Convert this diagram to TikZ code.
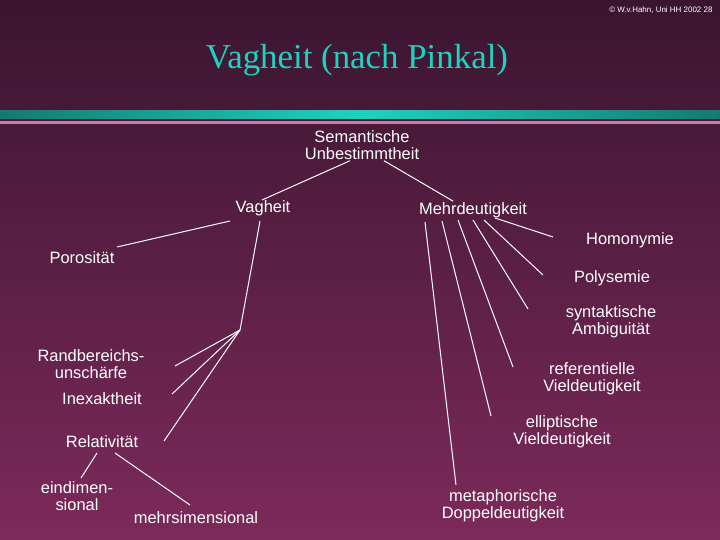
\documentclass[tikz,border=0pt]{standalone}
\usepackage{fontspec}
\setmainfont{Liberation Sans}
\newfontfamily\seriff{Liberation Serif}
\definecolor{bgtop}{HTML}{3A1530}
\definecolor{bgbot}{HTML}{7C2A5A}
\definecolor{teal}{HTML}{1ED2C0}
\definecolor{tealdk}{HTML}{147A70}
\definecolor{mauve}{HTML}{C080A8}
\begin{document}
\begin{tikzpicture}[x=1bp,y=-1bp,
  lbl/.style={text=white,font=\fontsize{16.5}{17}\selectfont,align=center,inner sep=1pt},
  ln/.style={draw=white,line width=1pt}]
\useasboundingbox (0,0) rectangle (720,540);
\shade[top color=bgtop,bottom color=bgbot] (0,0) rectangle (720,540);
\shade[left color=tealdk,right color=tealdk,middle color=teal] (0,111) rectangle (720,119);
\fill[mauve] (0,121) rectangle (720,124);
\node[text=white,font=\fontsize{8}{9}\selectfont,anchor=north east] (copy) at (716,3) {© W.v.Hahn, Uni HH 2002 28};
\node[text=teal,font=\seriff\fontsize{35}{37}\selectfont] (title) at (357,60) {Vagheit (nach Pinkal)};
\node[lbl] (sem) at (362,145) {Semantische\\Unbestimmtheit};
\node[lbl] (vag) at (263,208) {Vagheit};
\node[lbl] (meh) at (473,210) {Mehrdeutigkeit};
\node[lbl] (por) at (82,258) {Porosität};
\node[lbl] (hom) at (630,240) {Homonymie};
\node[lbl] (pol) at (612,278) {Polysemie};
\node[lbl] (syn) at (611,322) {syntaktische\\Ambiguität};
\node[lbl] (ref) at (592,379) {referentielle\\Vieldeutigkeit};
\node[lbl] (ell) at (562,432) {elliptische\\Vieldeutigkeit};
\node[lbl] (met) at (503,506) {metaphorische\\Doppeldeutigkeit};
\node[lbl] (ran) at (91,364) {Randbereichs-\\unschärfe};
\node[lbl] (ine) at (102,399) {Inexaktheit};
\node[lbl] (rel) at (102,442) {Relativität};
\node[lbl] (ein) at (77,496) {eindimen-\\sional};
\node[lbl] (mehrs) at (196,518) {mehrsimensional};
\coordinate (br) at (240,330);
\coordinate (c1) at (175,366);
\coordinate (c2) at (172,394);
\coordinate (c3) at (164,441);
\coordinate (a1) at (553,237);
\coordinate (a2) at (543,275);
\coordinate (a3) at (528,309);
\coordinate (a4) at (513,367);
\coordinate (a5) at (491,416);
\coordinate (a6) at (456,485);
\draw[ln] ([xshift=-12pt]sem.south) -- (262,200);
\draw[ln] ([xshift=22pt]sem.south) -- ([xshift=-20pt]meh.north);
\draw[ln] (230,221) -- (117,247);
\draw[ln] (260,221) -- (br);
\draw[ln] (br) -- (c1);
\draw[ln] (br) -- (c2);
\draw[ln] (br) -- (c3);
\draw[ln] (97,453) -- (81,478);
\draw[ln] (115,453) -- (190,505);
\draw[ln] (495,218) -- (a1);
\draw[ln] (484,220) -- (a2);
\draw[ln] (473,220) -- (a3);
\draw[ln] (458,220) -- (a4);
\draw[ln] (442,221) -- (a5);
\draw[ln] (425,222) -- (a6);
\end{tikzpicture}
\end{document}
